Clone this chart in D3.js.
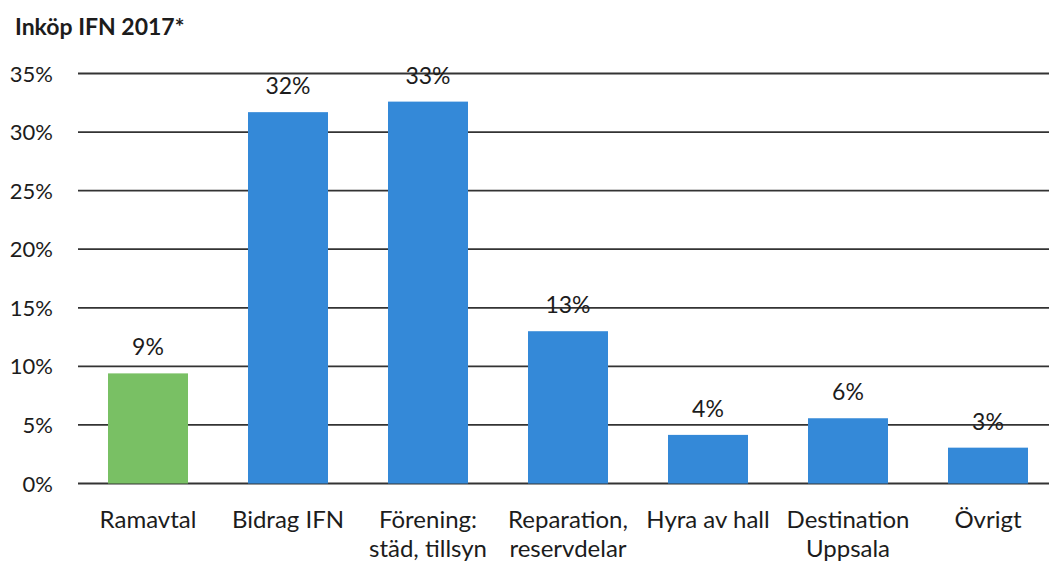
<!DOCTYPE html>
<html><head><meta charset="utf-8">
<script src="https://cdn.jsdelivr.net/npm/d3@7"></script>
<style>
html,body{margin:0;padding:0;background:#fff;}
svg{display:block;}
text{font-family:"Lato","Open Sans",sans-serif;fill:#1c1c1c;}
</style></head>
<body><svg id="c" width="1049" height="563"></svg>
<script>
const title = "Inköp IFN 2017*";
const categories = [["Ramavtal"],["Bidrag IFN"],["Förening:","städ, tillsyn"],["Reparation,","reservdelar"],["Hyra av hall"],["Destination","Uppsala"],["Övrigt"]];
const values = [9.4, 31.7, 32.6, 13.0, 4.15, 5.57, 3.06];
const barColors = ["#79c064","#3489d8","#3489d8","#3489d8","#3489d8","#3489d8","#3489d8"];
const yTicks = [0,5,10,15,20,25,30,35];

const svg = d3.select("#c");
const x = d3.scaleBand().domain(d3.range(categories.length)).range([78,1058]).paddingInner(0.4286).paddingOuter(0.2143);
const y = d3.scaleLinear().domain([0,35]).range([483.5,73.5]);

svg.append("text").attr("x",15).attr("y",35).attr("font-weight","bold").attr("font-size",23).text(title);

// gridlines
svg.append("g").selectAll("line").data(yTicks).join("line")
  .attr("x1",78).attr("x2",1058).attr("y1",d=>y(d)).attr("y2",d=>y(d))
  .attr("stroke","#333").attr("stroke-width",1.8);

// y tick labels
svg.append("g").selectAll("text").data(yTicks).join("text")
  .attr("x",53).attr("y",d=>y(d)+8).attr("text-anchor","end").attr("font-size",22)
  .text(d=>d+"%");

// bars
svg.append("g").selectAll("rect").data(values).join("rect")
  .attr("x",(d,i)=>x(i)).attr("width",x.bandwidth())
  .attr("y",d=>y(d)).attr("height",d=>y(0)-y(d))
  .attr("fill",(d,i)=>barColors[i]);

// value labels
svg.append("g").selectAll("text").data(values).join("text")
  .attr("x",(d,i)=>x(i)+x.bandwidth()/2).attr("y",d=>y(d)-18)
  .attr("text-anchor","middle").attr("font-size",23)
  .text(d=>Math.round(d)+"%");

// category labels
const cl = svg.append("g").selectAll("text").data(categories).join("text")
  .attr("x",(d,i)=>x(i)+x.bandwidth()/2).attr("y",528)
  .attr("text-anchor","middle").attr("font-size",24);
cl.selectAll("tspan").data(d=>d).join("tspan")
  .attr("x",function(){return d3.select(this.parentNode).attr("x");})
  .attr("dy",(d,j)=>j===0?0:29).text(d=>d);
</script></body></html>
